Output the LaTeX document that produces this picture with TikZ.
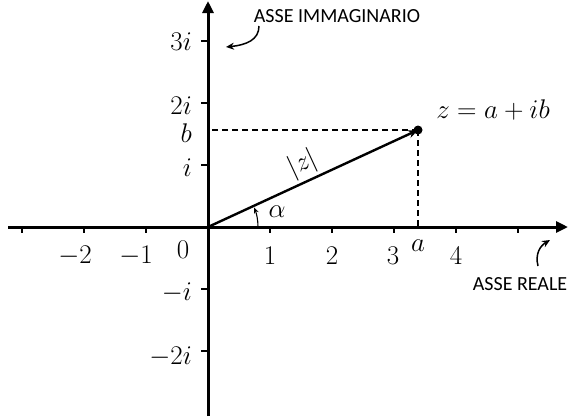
\RequirePackage{fix-cm}
\documentclass[tikz,border=0pt]{standalone}
\usepackage{fontspec}
\newfontfamily\lab{Carlito}
\usetikzlibrary{arrows.meta,calc}
\begin{document}
\begin{tikzpicture}[x=1pt,y=-1pt,
  axis/.style={line width=3pt,-{Triangle[length=12pt,width=11pt]}},
  tick/.style={line width=1.3pt},
  num/.style={font=\fontsize{27}{32}\selectfont,inner sep=0pt},
  note/.style={font=\lab\fontsize{20}{24}\selectfont,inner sep=0pt},
  curvy/.style={line width=1.5pt,-{Stealth[length=8pt,width=7pt]}},
  guide/.style={line width=1.1pt,dash pattern=on 6pt off 4pt}]
\useasboundingbox (0,0) rectangle (572,416);
\coordinate (O) at (208,227);
\coordinate (xs) at (8,227);
\coordinate (xe) at (568,227);
\coordinate (ys) at (208,416);
\coordinate (ye) at (208,1);
% ticks
\foreach \k in {-3,-2,-1,1,2,3,4,5}
  \draw[tick] ($(O)+(\k*62,0)$) -- ++(0,6);
\foreach \k in {-2,-1,1,2,3}
  \draw[tick] ($(O)+(0,-\k*62)$) -- ++(-7,0);
\draw[axis] (xs) -- (xe);
\draw[axis] (ys) -- (ye);
% point
\node[circle,fill=black,inner sep=0pt,minimum size=9pt] (P) at (418,130) {};
\coordinate (Pa) at (418,227);
\coordinate (Pb) at (208,130);
\draw[guide] (P.center) -- (Pb);
\draw[guide] (P.center) -- (Pa);
\draw[line width=2.4pt,-{Stealth[length=10pt,width=8pt]}] (O) -- (P.center);
\node[num,rotate=24.8] (mod) at (303,164) {$|z|$};
\draw[line width=1.1pt,-{Stealth[length=6pt,width=5pt]}] ($(O)+(50,0)$) arc (0:-23:50);
\node[num] (al) at (277,212) {$\alpha$};
% labels
\node[num] (zl) at (493,110) {$z=a+ib$};
\node[num] (la) at (418,246) {$a$};
\node[num,anchor=east] (lb) at (192,133) {$b$};
\node[num] (xm2) at (75,256) {$-2$};
\node[num] (xm1) at (136,256) {$-1$};
\node[num] (x0) at (183,250) {$0$};
\node[num] (x1) at (270,256) {$1$};
\node[num] (x2) at (332,256) {$2$};
\node[num] (x3) at (393,256) {$3$};
\node[num] (x4) at (456,256) {$4$};
\node[num,anchor=east] (y3) at (192,42) {$3i$};
\node[num,anchor=east] (y2) at (192,106) {$2i$};
\node[num,anchor=east] (y1) at (192,168) {$i$};
\node[num,anchor=east] (ym1) at (192,293) {$-i$};
\node[num,anchor=east] (ym2) at (192,357) {$-2i$};
% notes
\node[note] (im) at (337,16) {ASSE IMMAGINARIO};
\node[note] (re) at (520,284) {ASSE REALE};
\coordinate (ima) at (259,26);
\coordinate (imb) at (226,47);
\draw[curvy] (ima) .. controls (259,40) and (246,45) .. (imb);
\coordinate (rea) at (538,266);
\coordinate (reb) at (550,240);
\draw[curvy] (rea) .. controls (535,254) and (540,246) .. (reb);
\end{tikzpicture}
\end{document}
